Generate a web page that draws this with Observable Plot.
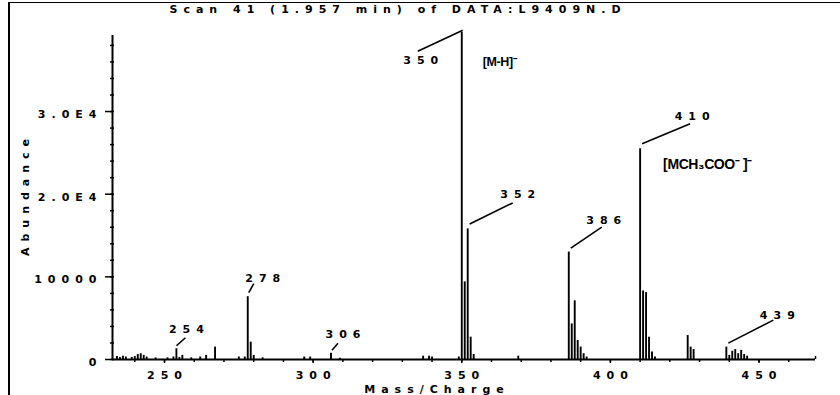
<!DOCTYPE html>
<html><head><meta charset="utf-8">
<script src="https://cdn.jsdelivr.net/npm/d3@7"></script>
<script src="https://cdn.jsdelivr.net/npm/@observablehq/plot@0.6"></script>
<style>
html,body{margin:0;padding:0;background:#fff;}
#wrap{position:relative;width:840px;height:395px;overflow:hidden;background:#fff;}
#wrap svg{position:absolute;left:0;top:0;}
#wrap svg text{letter-spacing:6px;}
#wrap svg g[font-family^="Liberation"] text{letter-spacing:-0.4px;}
.bl{position:absolute;left:8px;top:3px;width:2px;height:392px;background:#000;}
.bt{position:absolute;left:8px;top:2px;width:832px;height:1px;background:#000;}
</style></head><body><div id="wrap"></div>
<script>
// ---- data ----
const mz = [234,235,236,237,239,240,241,242,243,244,247,251,253,254,255,256,259,262,264,267,275,277,278,279,280,283,297,299,306,309,337,339,340,349,350,351,352,353,354,369,386,387,388,389,390,391,392,410,411,412,413,414,415,426,427,428,439,440,441,442,443,444,445,446];
const abundance = [350,250,400,300,250,350,600,700,500,300,200,200,300,1300,250,500,200,300,500,1500,300,300,7600,2100,500,200,300,300,750,150,400,400,300,300,39600,9400,15800,2700,600,400,13000,4300,7100,2300,1500,700,300,25500,8300,8100,2700,900,300,2900,1500,1200,1500,500,1000,1200,700,1100,600,400];
const annotMz = [254,278,306,350,352,386,410,439];
const ionLabels = [{mz:350, text:"[M-H]\u207B"}, {mz:410, text:"[MCH\u2083COO\u207B ]\u207B"}];
const yTicks = [0,10000,20000,30000];
const yTickLabels = ["0","10000","2.0E4","3.0E4"];
const xTicks = [250,300,350,400,450];
const titleText = "Scan 41 (1.957 min) of DATA:L9409N.D";
const xLabel = "Mass/Charge";
const yLabel = "Abundance";

// ---- layout ----
const W=840,H=395,ML=112,MR=25,MT=35,MB=36;
const xDomain=[232.5,469], yDomain=[0,39200];
const kx=(xDomain[1]-xDomain[0])/(W-ML-MR), ky=(yDomain[1]-yDomain[0])/(H-MT-MB);
// pixel offsets from peak top: s = leader start, e = leader end, t = label centre
const layout = {
  254:{s:[0,-3],e:[9,-11],t:[10,-19]},
  278:{s:[1,-4],e:[6,-13],t:[15,-18]},
  306:{s:[1,-3],e:[7,-10],t:[12,-19]},
  350:{s:[1,-2],e:[-44,19],t:[-41,28]},
  352:{s:[2,-5],e:[45,-26],t:[50,-34]},
  386:{s:[2,-4],e:[33,-25],t:[35,-32]},
  410:{s:[2,-5],e:[50,-25],t:[52,-32]},
  439:{s:[2,-4],e:[47,-27],t:[51,-32]}
};
const ionLayout = {350:{t:[21,30],fs:12.5}, 410:{t:[23,16],fs:14}};

const peaks = mz.map((m,i)=>({mz:m, ab:abundance[i]}));
const abOf = m => abundance[mz.indexOf(m)];
const annots = annotMz.map(m=>{const a=abOf(m),L=layout[m];return {
  label:String(m),
  x1:m+L.s[0]*kx, y1:a-L.s[1]*ky, x2:m+L.e[0]*kx, y2:a-L.e[1]*ky,
  tx:m+L.t[0]*kx, ty:a-L.t[1]*ky};});
const ions = ionLabels.map(d=>{const a=abOf(d.mz),L=ionLayout[d.mz];return {text:d.text,fs:L.fs,x:d.mz+L.t[0]*kx,y:a-L.t[1]*ky};});

const minorY = d3.range(0, 39201, 2000);
const minorX = d3.range(240, 469, 10);
const F = {fontFamily:"DejaVu Sans", fontWeight:"bold"};

const chart = Plot.plot({
  width:W, height:H, marginLeft:ML, marginRight:MR, marginTop:MT, marginBottom:MB,
  x:{domain:xDomain, axis:null}, y:{domain:yDomain, axis:null},
  style:{background:"#fff", color:"#000", overflow:"visible"},
  marks:[
    // axes lines
    Plot.ruleY([0],{x1:xDomain[0],x2:xDomain[1],strokeWidth:2}),
    Plot.ruleX([xDomain[0]],{y1:0,y2:yDomain[1],strokeWidth:2}),
    Plot.ruleX([xDomain[1]],{y1:0,y2:3*ky,strokeWidth:1.5}),
    // y axis ticks
    Plot.axisY({ticks:minorY, tickSize:4, dx:2, tickFormat:()=>"", label:null, strokeWidth:1.5}),
    Plot.axisY({ticks:yTicks, tickSize:7, tickFormat:()=>"", label:null, strokeWidth:1.5}),
    Plot.axisY({ticks:yTicks, tickSize:0, tickPadding:10, dy:3, tickFormat:d=>yTickLabels[yTicks.indexOf(d)], label:null, fontSize:11, ...F}),
    // x axis ticks
    Plot.axisX({ticks:minorX, tickSize:3, tickFormat:()=>"", label:null, strokeWidth:1.5}),
    Plot.axisX({ticks:xTicks, tickSize:4, tickFormat:()=>"", label:null, strokeWidth:1.5}),
    Plot.axisX({ticks:xTicks, tickSize:0, tickPadding:12, dx:3, tickFormat:d=>String(d), label:null, fontSize:11, ...F}),
    // spectrum
    Plot.ruleX(peaks,{x:"mz", y1:0, y2:"ab", strokeWidth:1.9, stroke:"#000"}),
    // annotations
    Plot.link(annots,{x1:"x1",y1:"y1",x2:"x2",y2:"y2",strokeWidth:1.6,stroke:"#000"}),
    Plot.text(annots,{x:"tx",y:"ty",text:"label",textAnchor:"middle",lineAnchor:"middle",dx:3,fontSize:11,...F,fill:"#000"}),
    Plot.text(ions.filter(d=>d.fs<13),{x:"x",y:"y",text:"text",textAnchor:"start",lineAnchor:"middle",fontSize:12.5,fontFamily:"Liberation Sans",fontWeight:"bold",fill:"#000"}),
    Plot.text(ions.filter(d=>d.fs>=13),{x:"x",y:"y",text:"text",textAnchor:"start",lineAnchor:"middle",fontSize:14,fontFamily:"Liberation Sans",fontWeight:"bold",fill:"#000"}),
    // titles
    Plot.text([titleText],{frameAnchor:"top",lineAnchor:"middle",textAnchor:"middle",dx:-66,dy:-26,fontSize:11,...F}),
    Plot.text([xLabel],{frameAnchor:"bottom",lineAnchor:"middle",textAnchor:"middle",dx:-27,dy:30,fontSize:11,...F}),
    Plot.text([yLabel],{frameAnchor:"left",lineAnchor:"middle",textAnchor:"middle",rotate:-90,dx:-87,dy:-3,fontSize:11,...F})
  ]
});
const wrap=document.getElementById("wrap");
wrap.appendChild(chart);
const bl=document.createElement("div");bl.className="bl";wrap.appendChild(bl);
const bt=document.createElement("div");bt.className="bt";wrap.appendChild(bt);
</script></body></html>
